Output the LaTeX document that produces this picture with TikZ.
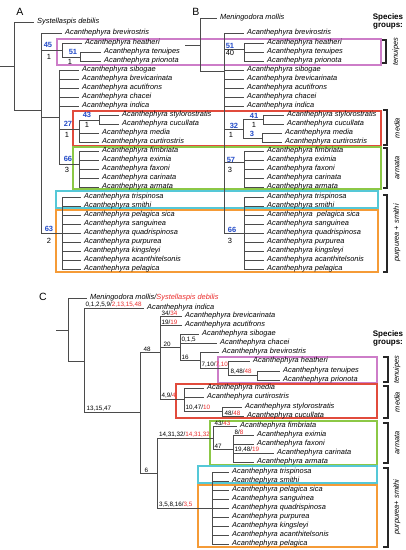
\documentclass[tikz,border=0pt]{standalone}
\usepackage{fontspec}
\setmainfont{Liberation Sans}
\definecolor{treegray}{RGB}{75,75,75}
\definecolor{bxpink}{RGB}{205,125,200}
\definecolor{bxred}{RGB}{225,75,60}
\definecolor{bxgreen}{RGB}{140,200,70}
\definecolor{bxcyan}{RGB}{85,200,215}
\definecolor{bxorange}{RGB}{245,155,55}
\definecolor{supblue}{RGB}{35,75,200}
\definecolor{redt}{RGB}{235,45,45}
\begin{document}
\begin{tikzpicture}[x=1pt,y=-1pt,
  br/.style={draw=treegray,line width=0.9pt},
  tx/.style={anchor=west,inner xsep=3.5pt,inner ysep=0.5pt,font=\fontsize{7.4}{8}\selectfont\itshape},
  supb/.style={inner sep=0pt,text=supblue,font=\fontsize{7.5}{8}\selectfont\bfseries},
  supk/.style={inner sep=0pt,font=\fontsize{7.5}{8}\selectfont},
  chr/.style={anchor=south west,inner xsep=0.3pt,inner ysep=0.6pt,font=\fontsize{6.3}{7}\selectfont},
  plab/.style={inner sep=0pt,font=\fontsize{10.5}{12}\selectfont},
  sgrp/.style={inner sep=0pt,font=\fontsize{8}{9}\selectfont\bfseries},
  grp/.style={inner sep=0pt,rotate=90,font=\fontsize{7.4}{8}\selectfont\itshape},
  bx/.style={line width=1.2pt},
  brk/.style={draw=black!85,line width=1.1pt}]
\fill[white] (0,0) rectangle (406,550);
\useasboundingbox (0,0) rectangle (406,550);

% ---------------- boxes -----------------
\draw[bx,draw=bxpink]   (57,39) rectangle (381,65);
\draw[bx,draw=bxred]    (73,111) rectangle (381,146);
\draw[bx,draw=bxgreen]  (73,147) rectangle (381,189);
\draw[bx,draw=bxcyan]   (56,191) rectangle (378,208);
\draw[bx,draw=bxorange] (56,210) rectangle (378,272);

\draw[bx,draw=bxpink]   (218,357) rectangle (377,383);
\draw[bx,draw=bxred]    (176,384) rectangle (377,418);
\draw[bx,draw=bxgreen]  (210,421) rectangle (377,465);
\draw[bx,draw=bxcyan]   (198,466) rectangle (377,483);
\draw[bx,draw=bxorange] (198,485) rectangle (377,547);

% ---------------- panel A -----------------
\node[plab] (labA) at (20,12) {A};
\coordinate (Ast) at (0,66);
\coordinate (Ar) at (14,66);
\coordinate (Ai) at (41,110);
\draw[br] (Ast) -- (Ar);
\node[tx] (Asy) at (33.5,22) {Systellaspis debilis};
\draw[br] (Ar) |- (Asy.west);
\draw[br] (Ar) |- (Ai);
\node[tx] (Abre) at (61.5,33) {Acanthephyra brevirostris};
\draw[br] (Ai) |- (Abre.west);
\coordinate (A45) at (62,50);
\draw[br] (Ai) |- (A45);
\node[tx] (Ahea) at (81.5,43) {Acanthephyra heatheri};
\draw[br] (A45) |- (Ahea.west);
\coordinate (A51) at (80,57);
\draw[br] (A45) |- (A51);
\node[tx] (Aten) at (100.5,52) {Acanthephyra tenuipes};
\node[tx] (Apri) at (100.5,61) {Acanthephyra prionota};
\draw[br] (A51) |- (Aten.west);
\draw[br] (A51) |- (Apri.west);
\coordinate (A59) at (59,117);
\draw[br] (Ai) |- (A59);
\foreach \n/\y/\t in {sib/70/sibogae,bca/79/brevicarinata,acu/88/acutifrons,cha/97/chacei,ind/106/indica}{
  \node[tx] (A\n) at (78.5,\y) {Acanthephyra \t};
  \draw[br] (A59) |- (A\n.west);
}
\coordinate (A27) at (79,129);
\draw[br] (A59) |- (A27);
\coordinate (A43) at (99,120);
\draw[br] (A27) |- (A43);
\node[tx] (Asty) at (118.5,115) {Acanthephyra stylorostratis};
\node[tx] (Acuc) at (118.5,124) {Acanthephyra cucullata};
\draw[br] (A43) |- (Asty.west);
\draw[br] (A43) |- (Acuc.west);
\node[tx] (Amed) at (98.5,133) {Acanthephyra media};
\node[tx] (Acur) at (98.5,142) {Acanthephyra curtirostris};
\draw[br] (A27) |- (Amed.west);
\draw[br] (A27) |- (Acur.west);
\coordinate (A66) at (79,164);
\draw[br] (A59) |- (A66);
\foreach \n/\y/\t in {fim/151/fimbriata,exi/160/eximia,fax/169/faxoni,car/178/carinata,arm/187/armata}{
  \node[tx] (A\n) at (98.5,\y) {Acanthephyra \t};
  \draw[br] (A66) |- (A\n.west);
}
\coordinate (A63) at (62,233);
\draw[br] (Ai) |- (A63);
\foreach \n/\y/\t in {tri/197/trispinosa,smi/206/smithi,pes/215/pelagica sica,san/224/sanguinea,qua/233/quadrispinosa,pur/242/purpurea,kin/251/kingsleyi,aca/260/acanthitelsonis,pel/269/pelagica}{
  \node[tx] (A\n) at (80.5,\y) {Acanthephyra \t};
  \draw[br] (A63) |- (A\n.west);
}
\node[supb] (sA45) at (48,45) {45};
\node[supk] (kA45) at (49,57) {1};
\node[supb] (sA51) at (73,52) {51};
\node[supk] (kA51) at (70,61.5) {1};
\node[supb] (sA43) at (87,115) {43};
\node[supk] (kA43) at (87,124.5) {1};
\node[supb] (sA27) at (68,124) {27};
\node[supk] (kA27) at (67,135) {1};
\node[supb] (sA66) at (68,158.5) {66};
\node[supk] (kA66) at (67,170) {3};
\node[supb] (sA63) at (49,228.5) {63};
\node[supk] (kA63) at (49,240.5) {2};

% ---------------- panel B -----------------
\node[plab] (labB) at (196,12) {B};
\coordinate (Bst) at (185,45);
\coordinate (Br) at (200,45);
\coordinate (Bi) at (224,71);
\draw[br] (Bst) -- (Br);
\node[tx] (Bmen) at (216.5,18) {Meningodora mollis};
\draw[br] (Br) |- (Bmen.west);
\draw[br] (Br) |- (Bi);
\node[tx] (Bbre) at (243.5,33) {Acanthephyra brevirostris};
\draw[br] (Bi) |- (Bbre.west);
\coordinate (B51) at (244,49.5);
\draw[br] (Bi) |- (B51);
\foreach \n/\y/\t in {hea/43/heatheri,ten/52/tenuipes,pri/61/prionota}{
  \node[tx] (B\n) at (263.5,\y) {Acanthephyra \t};
  \draw[br] (B51) |- (B\n.west);
}
\foreach \n/\y/\t in {sib/70/sibogae,bca/79/brevicarinata,acu/88/acutifrons,cha/97/chacei,ind/106/indica}{
  \node[tx] (B\n) at (243.5,\y) {Acanthephyra \t};
  \draw[br] (Bi) |- (B\n.west);
}
\coordinate (B32) at (243,129);
\draw[br] (Bi) |- (B32);
\coordinate (B41) at (263,119);
\draw[br] (B32) |- (B41);
\node[tx] (Bsty) at (283.5,115) {Acanthephyra stylorostratis};
\node[tx] (Bcuc) at (283.5,124) {Acanthephyra cucullata};
\draw[br] (B41) |- (Bsty.west);
\draw[br] (B41) |- (Bcuc.west);
\coordinate (B3) at (262,138);
\draw[br] (B32) |- (B3);
\node[tx] (Bmed) at (281.5,133) {Acanthephyra media};
\node[tx] (Bcur) at (281.5,142) {Acanthephyra curtirostris};
\draw[br] (B3) |- (Bmed.west);
\draw[br] (B3) |- (Bcur.west);
\coordinate (B57) at (244,162);
\draw[br] (Bi) |- (B57);
\foreach \n/\y/\t in {fim/151/fimbriata,exi/160/eximia,fax/169/faxoni,car/178/carinata,arm/187/armata}{
  \node[tx] (B\n) at (263.5,\y) {Acanthephyra \t};
  \draw[br] (B57) |- (B\n.west);
}
\coordinate (B66) at (244,233);
\draw[br] (Bi) |- (B66);
\foreach \n/\y/\t in {tri/197/trispinosa,smi/206/smithi,pes/215/\ pelagica sica,san/224/sanguinea,qua/233/quadrispinosa,pur/242/purpurea,kin/251/kingsleyi,aca/260/acanthitelsonis,pel/269/pelagica}{
  \node[tx] (B\n) at (263.5,\y) {Acanthephyra \t};
  \draw[br] (B66) |- (B\n.west);
}
\node[supb] (sB51) at (230,46) {51};
\node[supk] (kB51) at (230,53) {40};
\node[supb] (sB41) at (254,116) {41};
\node[supk] (kB41) at (254,124.5) {1};
\node[supb] (sB32) at (234,125.5) {32};
\node[supk] (kB32) at (231,134.5) {1};
\node[supb] (sB3) at (252,134) {3};
\node[supb] (sB57) at (231,159.5) {57};
\node[supk] (kB57) at (230,170) {3};
\node[supb] (sB66) at (232,229.5) {66};
\node[supk] (kB66) at (230,240.5) {3};

% species groups A/B
\node[sgrp] (sgAB1) at (388,17) {Species};
\node[sgrp] (sgAB2) at (388,26) {groups:};
\draw[brk] (382,40) -- (386,40) -- (386,63) -- (382,63);
\node[grp] (gAB1) at (396,52) {tenuipes};
\draw[brk] (383,110) -- (387,110) -- (387,145) -- (383,145);
\node[grp] (gAB2) at (397,128) {media};
\draw[brk] (383,148) -- (387,148) -- (387,188) -- (383,188);
\node[grp] (gAB3) at (397,168) {armata};
\draw[brk] (383,195) -- (387,195) -- (387,272) -- (383,272);
\node[grp] (gAB4) at (397,233) {purpurea + smithi};

% ---------------- panel C -----------------
\node[plab] (labC) at (43,297) {C};
\coordinate (Cst) at (56,330);
\coordinate (Cr) at (68,330);
\draw[br] (Cst) -- (Cr);
\node[tx] (Cmen) at (86.5,298) {Meningodora mollis/\textcolor{redt}{Systellaspis debilis}};
\draw[br] (Cr) |- (Cmen.west);
\coordinate (C1) at (84,361);
\draw[br] (Cr) |- (C1);
\node[tx] (Cind) at (143.5,308) {Acanthephyra indica};
\draw[br] (C1) |- (Cind.west);
\node[chr] (cInd) at (85,308) {0,1,2,5,9/\textcolor{redt}{2,13,15,48}};
\coordinate (C2) at (140,412);
\draw[br] (C1) |- (C2);
\node[chr] (cC2) at (86,412) {13,15,47};
\coordinate (C48) at (160,352);
\draw[br] (C2) |- (C48);
\node[chr] (cC48) at (143,352) {48};
\coordinate (C6) at (157,473);
\draw[br] (C2) |- (C6);
\node[chr] (cC6) at (144,473) {6};

\node[tx] (Cbca) at (181.5,316) {Acanthephyra brevicarinata};
\draw[br] (C48) |- (Cbca.west);
\node[chr] (cBca) at (161,316) {34/\textcolor{redt}{34}};
\node[tx] (Cacu) at (181.5,325) {Acanthephyra acutifrons};
\draw[br] (C48) |- (Cacu.west);
\node[chr] (cAcu) at (161,325) {19/\textcolor{redt}{19}};
\coordinate (C20) at (180,347);
\draw[br] (C48) |- (C20);
\node[chr] (cC20) at (163,347) {20};
\coordinate (C4) at (184,399);
\draw[br] (C48) |- (C4);
\node[chr] (cC4) at (161,399) {4,9/\textcolor{redt}{4}};

\node[tx] (Csib) at (198.5,334) {Acanthephyra sibogae};
\draw[br] (C20) |- (Csib.west);
\node[tx] (Ccha) at (216.5,343) {Acanthephyra chacei};
\draw[br] (C20) |- (Ccha.west);
\node[chr] (cCha) at (181,343) {0,1,5};
\coordinate (C16) at (200,360);
\draw[br] (C20) |- (C16);
\node[chr] (cC16) at (181,360) {16};
\node[tx] (Cbre) at (218.5,352) {Acanthephyra brevirostris};
\draw[br] (C16) |- (Cbre.west);
\coordinate (C7) at (228,368);
\draw[br] (C16) |- (C7);
\node[chr] (cC7) at (201,368) {7,10/\textcolor{redt}{7,10}};
\node[tx] (Chea) at (249.5,361) {Acanthephyra heatheri};
\draw[br] (C7) |- (Chea.west);
\coordinate (C8) at (257,375.5);
\draw[br] (C7) |- (C8);
\node[chr] (cC8) at (230,375.5) {8,48/\textcolor{redt}{48}};
\node[tx] (Cten) at (279.5,371) {Acanthephyra tenuipes};
\node[tx] (Cpri) at (279.5,380) {Acanthephyra prionota};
\draw[br] (C8) |- (Cten.west);
\draw[br] (C8) |- (Cpri.west);

\node[tx] (Cmed) at (203.5,388) {Acanthephyra media};
\node[tx] (Ccur) at (203.5,397) {Acanthephyra curtirostris};
\draw[br] (C4) |- (Cmed.west);
\draw[br] (C4) |- (Ccur.west);
\coordinate (C10) at (222,411.5);
\draw[br] (C4) |- (C10);
\node[chr] (cC10) at (185,411.5) {10,47/\textcolor{redt}{10}};
\node[tx] (Csty) at (241.5,407) {Acanthephyra stylorostratis};
\node[tx] (Ccuc) at (243.5,416) {Acanthephyra cucullata};
\draw[br] (C10) |- (Csty.west);
\draw[br] (C10) |- (Ccuc.west);
\node[chr] (cCuc) at (224,416) {48/\textcolor{redt}{48}};

\coordinate (C14) at (213,438);
\draw[br] (C6) |- (C14);
\node[chr] (cC14) at (158.5,438) {14,31,32/\textcolor{redt}{14,31,32}};
\node[tx] (Cfim) at (236.5,426) {Acanthephyra fimbriata};
\draw[br] (C14) |- (Cfim.west);
\node[chr] (cFim) at (214,426) {43/\textcolor{redt}{43}};
\coordinate (C47) at (233,449);
\draw[br] (C14) |- (C47);
\node[chr] (cC47) at (214,449) {47};
\node[tx] (Cexi) at (253.5,435) {Acanthephyra eximia};
\draw[br] (C47) |- (Cexi.west);
\node[chr] (cExi) at (234,435) {8/\textcolor{redt}{8}};
\node[tx] (Cfax) at (253.5,444) {Acanthephyra faxoni};
\draw[br] (C47) |- (Cfax.west);
\node[tx] (Ccar) at (273.5,453) {Acanthephyra carinata};
\draw[br] (C47) |- (Ccar.west);
\node[chr] (cCar) at (234,453) {19,48/\textcolor{redt}{19}};
\node[tx] (Carm) at (253.5,462) {Acanthephyra armata};
\draw[br] (C47) |- (Carm.west);

\coordinate (C3) at (212,508);
\draw[br] (C6) |- (C3);
\node[chr] (cC3) at (158.5,508) {3,5,8,16/\textcolor{redt}{3,5}};
\foreach \n/\y/\t in {tri/472/trispinosa,smi/481/smithi,pes/490/pelagica sica,san/499/sanguinea,qua/508/quadrispinosa,pur/517/purpurea,kin/526/kingsleyi,aca/535/acanthitelsonis,pel/544/pelagica}{
  \node[tx] (C\n) at (228.5,\y) {Acanthephyra \t};
  \draw[br] (C3) |- (C\n.west);
}

% species groups C
\node[sgrp] (sgC1) at (388,334) {Species};
\node[sgrp] (sgC2) at (388,343) {groups:};
\draw[brk] (383,357) -- (388,357) -- (388,382) -- (383,382);
\node[grp] (gC1) at (397,370) {tenuipes};
\draw[brk] (383,386) -- (388,386) -- (388,418) -- (383,418);
\node[grp] (gC2) at (397,402) {media};
\draw[brk] (383,423) -- (388,423) -- (388,463) -- (383,463);
\node[grp] (gC3) at (397,443) {armata};
\draw[brk] (383,468) -- (388,468) -- (388,547) -- (383,547);
\node[grp] (gC4) at (397,507) {purpurea+ smithi};
\end{tikzpicture}
\end{document}
